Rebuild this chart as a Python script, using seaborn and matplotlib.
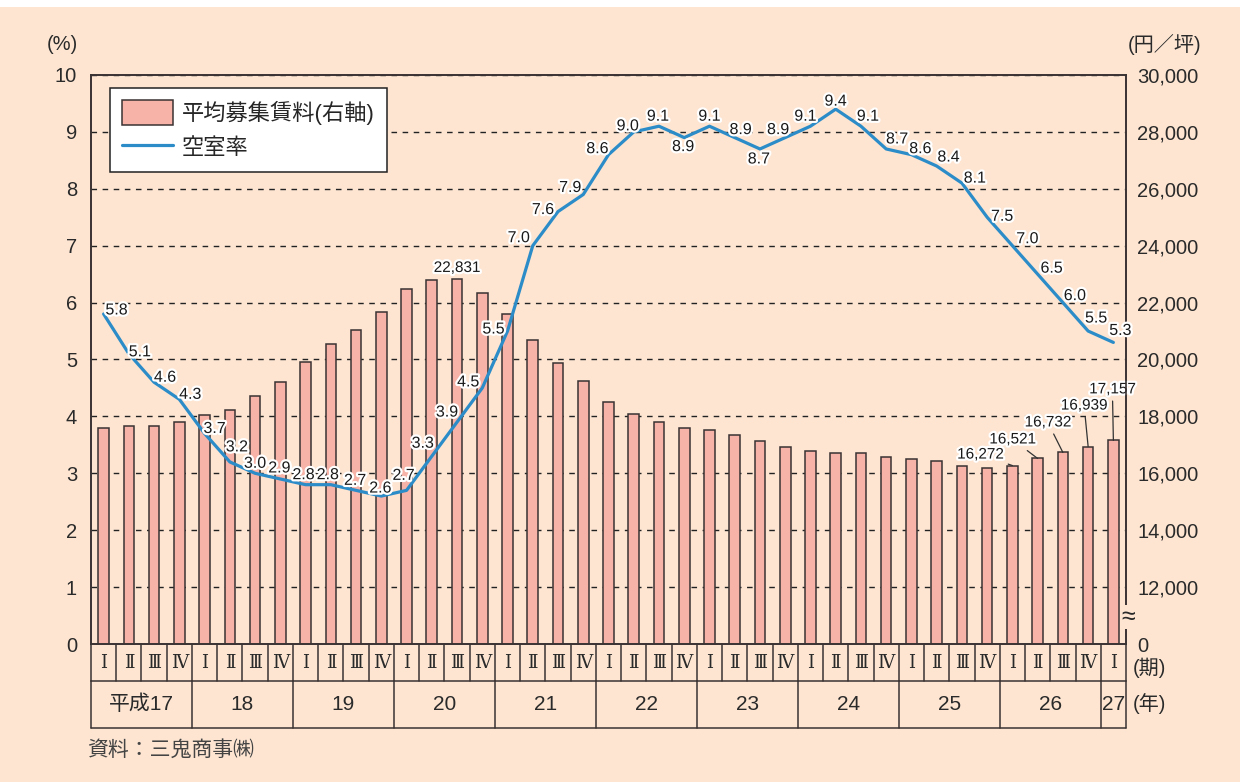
import matplotlib
matplotlib.use("Agg")
import matplotlib.pyplot as plt
import matplotlib.patheffects as pe
import numpy as np
import pandas as pd
import seaborn as sns

# quarters: 平成17 Q1 ... 平成27 Q1
quarters = ["Ⅰ", "Ⅱ", "Ⅲ", "Ⅳ"] * 10 + ["Ⅰ"]
years = ["平成17", "18", "19", "20", "21", "22", "23", "24", "25", "26", "27"]
year_len = [4, 4, 4, 4, 4, 4, 4, 4, 4, 4, 1]

# 空室率 (%)
vacancy = [5.8, 5.1, 4.6, 4.3,
           3.7, 3.2, 3.0, 2.9,
           2.8, 2.8, 2.7, 2.6,
           2.7, 3.3, 3.9, 4.5,
           5.5, 7.0, 7.6, 7.9,
           8.6, 9.0, 9.1, 8.9,
           9.1, 8.9, 8.7, 8.9,
           9.1, 9.4, 9.1, 8.7,
           8.6, 8.4, 8.1, 7.5,
           7.0, 6.5, 6.0, 5.5,
           5.3]

# 平均募集賃料 (円/坪), labelled ones exact, others
rent = [17580, 17660, 17680, 17800,
        18040, 18240, 18700, 19220,
        19920, 20530, 21050, 21680,
        22490, 22780, 22831, 22340,
        21600, 20680, 19880, 19240,
        18520, 18070, 17790, 17600,
        17510, 17350, 17120, 16940,
        16800, 16730, 16710, 16580,
        16510, 16420, 16240, 16200,
        16272, 16521, 16732, 16939,
        17157]

# label offsets (pixels) for the vacancy numbers
vac_off = [(13, 4), (11, 2), (11, 5), (11, 5), (10, 5), (7, 15), (0, 10), (-1, 11),
           (-2, 10), (-3, 10), (-1, 10), (-1, 8), (-3, 15), (-9, 13), (-10, 10), (-14, 6),
           (-14, 2), (-14, 8), (-15, 2), (-13, 7), (-11, 6), (-6, 6), (-1, 10), (-1, -9),
           (0, 10), (6, 8), (-1, -10), (-7, 8), (-5, 10), (0, 8), (7, 10), (11, 10),
           (9, 6), (12, 9), (13, 5), (15, 1), (15, 7), (14, 6), (12, 7), (8, 13), (7, 12)]

# rent labels: index -> offset (pixels)
rent_lab = {14: (0, 11), 36: (-32, 11), 37: (-25, 19), 38: (-15, 30), 39: (-4, 41), 40: (-1, 51)}

BG = "#FDE5D2"
BAR = "#F7B3A7"
LINE = "#2B8CC8"
INK = "#2a2a2a"

sns.set_theme(style="white")
plt.rcParams["font.family"] = ["Liberation Sans", "Noto Sans CJK JP"]

idx = np.arange(len(vacancy))
df = pd.DataFrame({"idx": idx, "vacancy": vacancy, "rent": rent})

fig = plt.figure(figsize=(12.4, 7.82), dpi=100, facecolor=BG)
fig.patches.append(plt.Rectangle((0, 1 - 7 / 782), 1, 7 / 782, transform=fig.transFigure,
                                 facecolor="white", edgecolor="none", zorder=-1))
ax = fig.add_axes([91 / 1240, 138 / 782, 1035 / 1240, 569 / 782])
ax2 = ax.twinx()

# bars on the right axis
sns.barplot(data=df, x="idx", y="rent", ax=ax2, color=BAR, width=0.42,
            edgecolor="#3a3333", linewidth=1.1, saturation=1)
ax2.set_facecolor(BG)
ax2.set_ylim(10000, 30000)
ax2.set_yticks(np.arange(10000, 30001, 2000))
ax2.set_yticklabels(["0"] + [f"{v:,}" for v in range(12000, 30001, 2000)])
ax2.yaxis.grid(True, color="#222222", linestyle=(0, (4, 4)), linewidth=1.0)
ax2.set_axisbelow(True)
ax2.set_ylabel("")
ax2.set_xlabel("")

# vacancy line on the left axis
sns.lineplot(data=df, x="idx", y="vacancy", ax=ax, color=LINE, linewidth=2.3)
ax.set_zorder(ax2.get_zorder() + 1)
ax.patch.set_visible(False)
ax.set_ylim(0, 10)
ax.set_yticks(range(0, 11))
ax.set_xlim(-0.5, len(vacancy) - 0.5)
ax2.set_xlim(-0.5, len(vacancy) - 0.5)
ax.set_xticks([])
ax2.set_xticks([])
ax.set_xlabel("")
ax.set_ylabel("")

for a in (ax, ax2):
    a.tick_params(axis="y", length=0, labelsize=14.5, colors=INK)
    for s in a.spines.values():
        s.set_color("#3a3333")
        s.set_linewidth(1.2)
ax.tick_params(axis="y", pad=10)
ax2.tick_params(axis="y", pad=8)

halo = [pe.withStroke(linewidth=3.2, foreground="white")]
for i, v in enumerate(vacancy):
    dx, dy = vac_off[i]
    ax.annotate(f"{v:.1f}", (i, v), xytext=(dx, dy), textcoords="offset pixels",
                ha="center", va="center", fontsize=11.5, color="#1a1a1a",
                path_effects=halo, zorder=5)

for i, (dx, dy) in rent_lab.items():
    arrow = None
    if i != 14:
        arrow = dict(arrowstyle="-", color="#333333", lw=0.9, shrinkA=1, shrinkB=0)
    ax2.annotate(f"{rent[i]:,}", (i, rent[i]), xytext=(dx, dy), textcoords="offset pixels",
                 ha="center", va="center", fontsize=11, color="#1a1a1a",
                 path_effects=halo, arrowprops=arrow, zorder=5)

# bottom table: quarters row and years row
tr = ax.get_xaxis_transform()
n = len(vacancy)
r1, r2 = -37 / 569, -84 / 569
lk = dict(color="#3a3333", lw=1.1, transform=tr, clip_on=False)
ax.plot([-0.5, n - 0.5], [r1, r1], **lk)
ax.plot([-0.5, n - 0.5], [r2, r2], **lk)
for k in range(n + 1):
    ax.plot([k - 0.5, k - 0.5], [0, r1], **lk)
for i, q in enumerate(quarters):
    ax.text(i, r1 / 2, q, transform=tr, ha="center", va="center", fontsize=13,
            color=INK, family=["DejaVu Serif", "Noto Sans CJK JP"])
start = 0
ax.plot([-0.5, -0.5], [r1, r2], **lk)
for y, L in zip(years, year_len):
    ax.text(start + (L - 1) / 2, (r1 + r2) / 2, y, transform=tr, ha="center", va="center",
            fontsize=15, color=INK)
    start += L
    ax.plot([start - 0.5, start - 0.5], [r1, r2], **lk)

ax.text(1.007, -24 / 569, "(期)", transform=ax.transAxes, ha="left", va="center",
        fontsize=14.5, color=INK)
ax.text(1.007, -60 / 569, "(年)", transform=ax.transAxes, ha="left", va="center",
        fontsize=14.5, color=INK)
ax.text(1.0025, 27 / 569, "≈", transform=ax.transAxes, ha="center", va="center",
        fontsize=18, color=INK, bbox=dict(facecolor=BG, edgecolor="none", pad=0))

fig.text(62 / 1240, 1 - 44 / 782, "(%)", ha="center", va="center", fontsize=14.5, color=INK)
fig.text(1165 / 1240, 1 - 44 / 782, "(円／坪)", ha="center", va="center", fontsize=14.5, color=INK)
fig.text(87 / 1240, 32 / 782, "資料：三鬼商事㈱", ha="left", va="center",
         fontsize=15, color="#444444")

# legend
bar_handle = ax2.patches[0]
line_handle = ax.get_lines()[0]
leg = ax.legend([bar_handle, line_handle], ["平均募集賃料(右軸)", "空室率"],
                loc="upper left", bbox_to_anchor=(0.018, 0.977), borderaxespad=0,
                fontsize=16, frameon=True, fancybox=False, framealpha=1,
                handlelength=2.3, handleheight=1.3, handletextpad=0.4,
                labelspacing=0.45, borderpad=0.55)
leg.get_frame().set_edgecolor("#222222")
leg.get_frame().set_linewidth(1.1)
leg.set_zorder(10)

fig.savefig("out.png", dpi=100, facecolor=BG)
